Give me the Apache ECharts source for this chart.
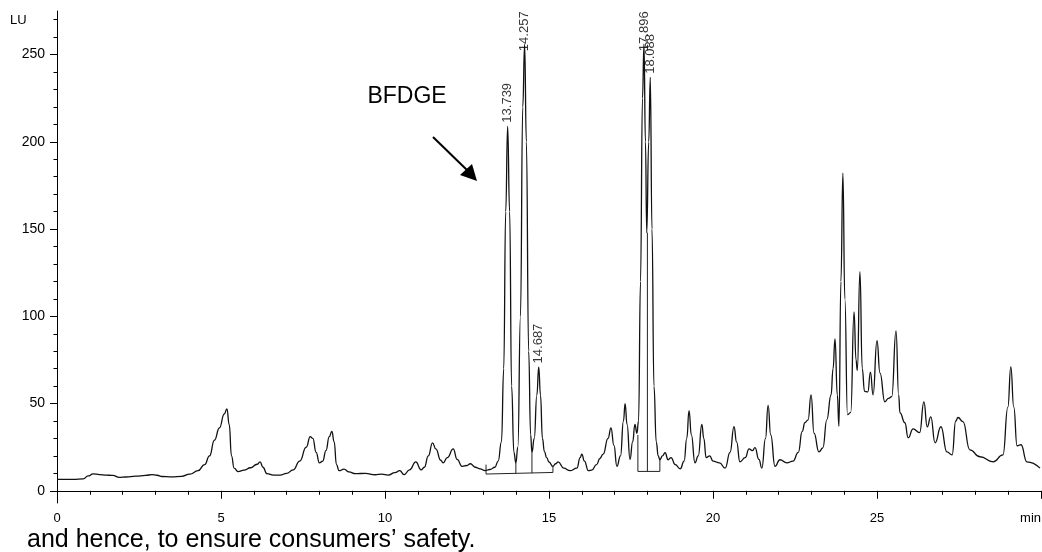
<!DOCTYPE html>
<html>
<head>
<meta charset="utf-8">
<script src="https://cdn.jsdelivr.net/npm/echarts@6/dist/echarts.min.js"></script>
<style>
  html, body { margin: 0; padding: 0; background: #fff; }
  #main { width: 1042px; height: 552px; }
</style>
</head>
<body>
<div id="main"></div>
<script>
// chromatogram trace, [time min, signal LU]
var trace = [
  [0.0, 6.5], [0.5, 6.5], [0.8, 6.8], [0.95, 8.5], [1.1, 9.7], [1.3, 9.3], [1.5, 9.0], [1.7, 8.8],
  [1.9, 7.7], [2.1, 7.9], [2.4, 8.4], [2.7, 8.8], [2.9, 9.3], [3.05, 8.9], [3.2, 8.2], [3.5, 8.0],
  [3.8, 8.3], [4.05, 9.6], [4.3, 11.5], [4.5, 15], [4.65, 20], [4.8, 29], [4.95, 36], [5.1, 44],
  [5.18, 47], [5.25, 38], [5.32, 20], [5.4, 13], [5.52, 11], [5.7, 11.8], [5.9, 13.2], [6.1, 15.2],
  [6.19, 16.6], [6.28, 13.5], [6.4, 9.8], [6.6, 9.0], [6.8, 9.0], [7.0, 10], [7.2, 12], [7.4, 17],
  [7.6, 25], [7.72, 31], [7.8, 30], [7.9, 22], [8.0, 16], [8.1, 17], [8.2, 23], [8.3, 31],
  [8.38, 34], [8.45, 28], [8.52, 15], [8.6, 11.5], [8.75, 12.4], [8.9, 10.8], [9.1, 9.8], [9.4, 10.0],
  [9.7, 9.2], [9.9, 9.5], [10.1, 9.0], [10.3, 10.4], [10.45, 11.5], [10.58, 9.3], [10.75, 12], [10.94, 16.6],
  [11.1, 12], [11.2, 13.5], [11.32, 20], [11.45, 27.5], [11.55, 24], [11.7, 17.5], [11.77, 16], [11.9, 19],
  [12.08, 24], [12.2, 18], [12.35, 14], [12.5, 14.5], [12.6, 15.5], [12.75, 13.5], [12.9, 12.6], [13.05, 11.6],
  [13.2, 12.2], [13.35, 13.5], [13.45, 17], [13.55, 28], [13.62, 70], [13.68, 160], [13.739, 209], [13.8, 160],
  [13.86, 60], [13.93, 22], [13.99, 16], [14.05, 25], [14.13, 100], [14.2, 220], [14.257, 256], [14.31, 200],
  [14.38, 80], [14.44, 32], [14.48, 22], [14.55, 30], [14.63, 55], [14.687, 71], [14.74, 55], [14.8, 30],
  [14.86, 22.5], [14.93, 19], [15.0, 16.5], [15.12, 14], [15.2, 15.5], [15.28, 16.6], [15.45, 13], [15.64, 11.5],
  [15.85, 13], [15.95, 19], [16.0, 21], [16.08, 17], [16.2, 11.5], [16.3, 11.8], [16.45, 15], [16.55, 18.5],
  [16.65, 21], [16.8, 30], [16.89, 36], [16.98, 26], [17.07, 14], [17.18, 20], [17.27, 40], [17.32, 50],
  [17.38, 38], [17.47, 18], [17.55, 28], [17.62, 38], [17.68, 33], [17.73, 40], [17.79, 120], [17.85, 225],
  [17.896, 256], [17.94, 200], [17.98, 148], [18.04, 200], [18.088, 237], [18.14, 150], [18.2, 60], [18.27, 28],
  [18.33, 20], [18.38, 17.8], [18.46, 20], [18.54, 21.8], [18.63, 17.8], [18.72, 19], [18.85, 15], [19.0, 12.6],
  [19.12, 17], [19.2, 30], [19.27, 46], [19.34, 32], [19.45, 16], [19.55, 20], [19.66, 38], [19.72, 30],
  [19.79, 19], [19.9, 20], [20.0, 17], [20.2, 16], [20.37, 13], [20.52, 22], [20.64, 36.7], [20.72, 28],
  [20.82, 16.6], [20.98, 19], [21.1, 24], [21.2, 23], [21.28, 24.7], [21.4, 18], [21.49, 13], [21.6, 30],
  [21.68, 49], [21.76, 32], [21.89, 14], [22.04, 17.8], [22.25, 16], [22.44, 17], [22.6, 22], [22.72, 34],
  [22.8, 39], [22.9, 40.7], [22.99, 55], [23.08, 33], [23.23, 22.3], [23.35, 24.6], [23.47, 40.7], [23.6, 55],
  [23.66, 70], [23.72, 87], [23.79, 55], [23.84, 37], [23.9, 120], [23.96, 182], [24.02, 110], [24.1, 43.6],
  [24.2, 45], [24.3, 102.6], [24.36, 75], [24.4, 69], [24.48, 125.6], [24.55, 70], [24.62, 57], [24.72, 56.7],
  [24.8, 68], [24.88, 55], [25.0, 86], [25.09, 67.6], [25.24, 51], [25.35, 53], [25.45, 54], [25.58, 91.7],
  [25.66, 55], [25.7, 44.7], [25.85, 39], [25.95, 30.4], [26.1, 35.5], [26.3, 33.3], [26.43, 51], [26.53, 36.7],
  [26.64, 42.4], [26.77, 27.5], [26.95, 36.7], [27.13, 22.3], [27.29, 20.6], [27.4, 40], [27.47, 42], [27.62, 39.6],
  [27.83, 23.5], [28.14, 19.5], [28.54, 16.6], [28.84, 20.6], [28.99, 48], [29.08, 71], [29.17, 48], [29.27, 25.8],
  [29.39, 26.4], [29.57, 16.6], [29.97, 13]
];

// integrated peaks: retention time and apex height
var peakTimes = [13.739, 14.257, 14.687, 17.896, 18.088];
var peakHeights = [209, 256, 71, 256, 237];

// integration baselines and the drop lines between peaks
var baseSegments = [
  [[13.08, 9.6], [15.12, 10.5]],
  [[13.08, 15], [13.08, 9.6]],
  [[13.99, 16], [13.99, 9.9]],
  [[14.48, 22], [14.48, 10.1]],
  [[15.12, 14], [15.12, 10.5]],
  [[17.71, 11.1], [18.38, 11.1]],
  [[17.71, 32], [17.71, 11.1]],
  [[18.0, 148], [18.0, 11.1]],
  [[18.38, 17.8], [18.38, 11.1]]
];

var yLabelValues = [0, 50, 100, 150, 200, 250];
var yMinorValues = [0, 10, 20, 30, 40, 50, 60, 70, 80, 90, 100, 110, 120, 130, 140, 150, 160, 170, 180, 190, 200, 210, 220, 230, 240, 250, 260, 270];

var FONT = '"Liberation Sans", Arial, sans-serif';

function peak_labels() { // label sits just above apex, but never above plot top
    var res = [];
    for (var i = 0; i < peakTimes.length; i++) {
        res.push([peakTimes[i], Math.min(peakHeights[i] + 2, 252)]);
    }
    return res;
}

var chart = echarts.init(document.getElementById('main'));

var series = [{
    type: 'line',
    data: trace,
    showSymbol: false,
    smooth: 0.5,
    smoothMonotone: 'x',
    lineStyle: { color: '#111', width: 1.3 },
    silent: true,
    z: 3
}];

for (var i = 0; i < baseSegments.length; i++) {
    series.push({
        type: 'line',
        data: baseSegments[i],
        showSymbol: false,
        lineStyle: { color: '#222', width: 1 },
        silent: true,
        z: 2
    });
}

series.push({
    type: 'scatter',
    data: peak_labels(),
    symbolSize: 0,
    silent: true,
    label: {
        show: true,
        position: 'inside',
        rotate: 90,
        align: 'left',
        verticalAlign: 'middle',
        color: '#000',
        fontFamily: FONT,
        fontSize: 13,
        formatter: function (p) { return p.value[0].toFixed(3); }
    },
    z: 4
});

var option = {
    animation: false,
    grid: { left: 57, right: 1, top: 11, bottom: 49, outerBoundsMode: 'none' },
    xAxis: {
        type: 'value',
        min: 0,
        max: 30,
        interval: 5,
        axisLine: { lineStyle: { color: '#000', width: 1 } },
        axisTick: { length: 8, lineStyle: { color: '#000' } },
        minorTick: { show: true, splitNumber: 5, length: 4, lineStyle: { color: '#000' } },
        splitLine: { show: false },
        axisLabel: {
            color: '#000', fontFamily: FONT, fontSize: 13, margin: 9,
            alignMaxLabel: 'right',
            formatter: function (v) { return v === 30 ? 'min' : String(v); }
        }
    },
    yAxis: [{
        type: 'value',
        min: -7,
        max: 275,
        axisLine: { show: true, lineStyle: { color: '#000', width: 1 } },
        axisTick: { show: true, length: 7, customValues: yLabelValues, lineStyle: { color: '#000' } },
        axisLabel: { color: '#000', fontFamily: FONT, fontSize: 14, margin: 12, customValues: yLabelValues },
        splitLine: { show: false }
    }, {
        type: 'value',
        min: -7,
        max: 275,
        position: 'left',
        axisLine: { show: false },
        axisTick: { show: true, length: 3.5, customValues: yMinorValues, lineStyle: { color: '#000' } },
        axisLabel: { show: false },
        splitLine: { show: false }
    }],
    series: series,
    graphic: [
        { type: 'text', left: 10, top: 14, style: { text: 'LU', font: '13px ' + FONT, fill: '#000' } },
        { type: 'text', x: 407, y: 97, style: { text: 'BFDGE', font: '23px ' + FONT, fill: '#000', textAlign: 'center', textVerticalAlign: 'middle' } },
        { type: 'line', shape: { x1: 433, y1: 137, x2: 468, y2: 171 }, style: { stroke: '#000', lineWidth: 2 } },
        { type: 'polygon', shape: { points: [[477, 181], [460, 175], [472, 164]] }, style: { fill: '#000' } },
        { type: 'text', x: 27, y: 540, style: { text: 'and hence, to ensure consumers\u2019 safety.', font: '25px ' + FONT, fill: '#000', textVerticalAlign: 'middle' } }
    ]
};

chart.setOption(option);
</script>
</body>
</html>
